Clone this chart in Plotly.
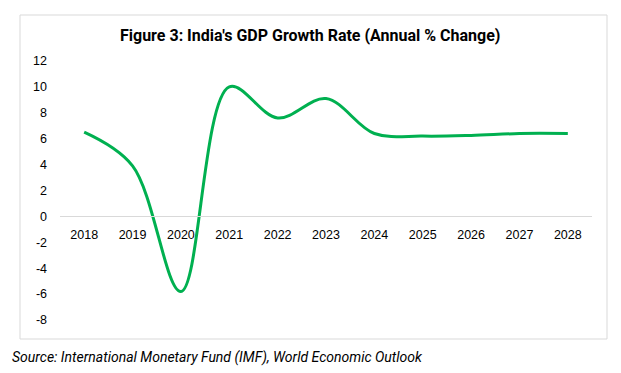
import plotly.graph_objects as go

years = ["2018", "2019", "2020", "2021", "2022", "2023", "2024", "2025", "2026", "2027", "2028"]
growth = [6.5, 3.9, -5.8, 10.0, 7.6, 9.1, 6.4, 6.2, 6.25, 6.4, 6.4]
y_ticks = [12, 10, 8, 6, 4, 2, 0, -2, -4, -6, -8]

title_text = "Figure 3: India's GDP Growth Rate (Annual % Change)"
source_text = "Source: International Monetary Fund (IMF), World Economic Outlook"

# page body has an 8px default margin; positions below are in screenshot pixels
OFF = 8
W, H = 621, 373
PL, PR, PT, PB = 60, 592, 61, 320  # plot area in screenshot pixels
L, T = PL - OFF, PT - OFF
R, B = W - (PR - OFF), H - (PB - OFF)
pw, ph = W - L - R, H - T - B

def px_x(x):
    return (x - OFF - L) / pw

def px_y(y):
    return (H - B - (y - OFF)) / ph

fig = go.Figure()
fig.add_trace(go.Scatter(
    x=years, y=growth, mode="lines",
    line=dict(color="#00B050", width=3, shape="spline", smoothing=1.0),
    hoverinfo="x+y", showlegend=False,
))

fig.update_layout(
    width=W, height=H,
    margin=dict(l=L, r=R, t=T, b=B, autoexpand=False),
    paper_bgcolor="white", plot_bgcolor="white",
    font=dict(family="Liberation Sans, Arial, sans-serif", size=12, color="#000000"),
    xaxis=dict(
        type="category", anchor="free", position=0.4,
        range=[-0.5, len(years) - 0.5], automargin=False,
        showline=True, linecolor="#d9d9d9", linewidth=1,
        showgrid=False, zeroline=False, ticks="",
        ticklabelstandoff=7,
        tickfont=dict(size=12.5, color="#000000"),
    ),
    yaxis=dict(
        range=[-8, 12], tickvals=y_ticks, ticktext=[str(v) for v in y_ticks],
        showgrid=False, zeroline=False, showline=False, ticks="", automargin=False,
        ticklabelstandoff=12,
        tickfont=dict(size=12.5, color="#000000"),
    ),
    shapes=[dict(
        type="rect", xref="paper", yref="paper",
        x0=px_x(20), x1=px_x(607), y0=px_y(339), y1=px_y(15),
        line=dict(color="#d9d9d9", width=1), fillcolor="rgba(0,0,0,0)", layer="below",
    )],
    annotations=[
        dict(text="<b>" + title_text + "</b>", xref="paper", yref="paper",
             x=px_x(310), y=px_y(36), xanchor="center", yanchor="middle", showarrow=False,
             font=dict(family="Liberation Sans Narrow, Roboto, sans-serif", size=16, color="#000000")),
        dict(text="<i>" + source_text + "</i>", xref="paper", yref="paper",
             x=px_x(10), y=px_y(357), xanchor="left", yanchor="middle", showarrow=False,
             font=dict(family="Liberation Sans Narrow, Roboto, sans-serif", size=14, color="#000000")),
    ],
)

fig.write_html("out.html")
